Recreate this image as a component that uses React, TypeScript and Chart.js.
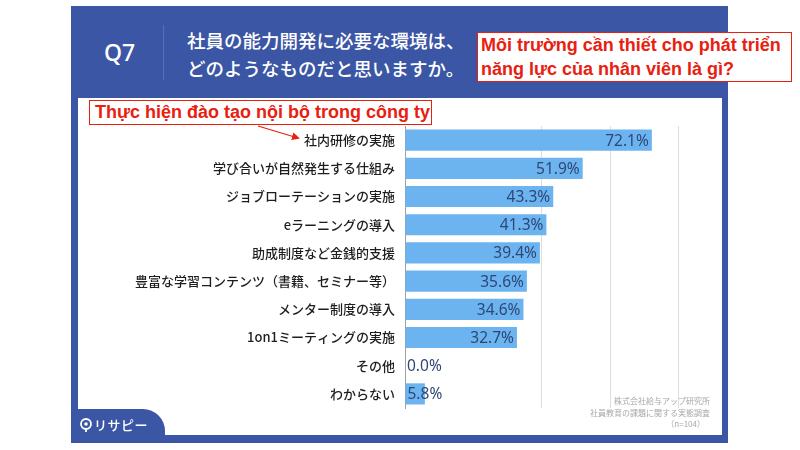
import React, { useEffect, useRef } from "react";
import { Chart, registerables } from "chart.js";

Chart.register(...registerables);

const categories = [
  "社内研修の実施",
  "学び合いが自然発生する仕組み",
  "ジョブローテーションの実施",
  "eラーニングの導入",
  "助成制度など金銭的支援",
  "豊富な学習コンテンツ（書籍、セミナー等）",
  "メンター制度の導入",
  "1on1ミーティングの実施",
  "その他",
  "わからない",
];
const values = [72.1, 51.9, 43.3, 41.3, 39.4, 35.6, 34.6, 32.7, 0.0, 5.8];
const gridValues = [40, 60, 80];
const questionNo = "Q7";
const questionLines = ["社員の能力開発に必要な環境は、", "どのようなものだと思いますか。"];
const noteTop = ["Môi trường cần thiết cho phát triển", "năng lực của nhân viên là gì?"];
const noteFirst = "Thực hiện đào tạo nội bộ trong công ty";
const sourceLines = ["株式会社給与アップ研究所", "社員教育の課題に関する実態調査", "（n=104）"];
const brand = "リサピー";

const BLUE = "#3b56a4";
const RED = "#e8200f";

const valueLabels = {
  id: "valueLabels",
  afterDatasetsDraw(chart: any) {
    const ctx = chart.ctx;
    const meta = chart.getDatasetMeta(0);
    ctx.save();
    ctx.font = '15.5px "Noto Sans", sans-serif';
    ctx.fillStyle = "#2e4776";
    ctx.textBaseline = "middle";
    meta.data.forEach((bar: any, i: number) => {
      const text = values[i].toFixed(1) + "%";
      const w = ctx.measureText(text).width;
      const len = bar.x - bar.base;
      if (len > w + 6) {
        ctx.textAlign = "right";
        ctx.fillText(text, bar.x - 3, bar.y + 1);
      } else {
        ctx.textAlign = "left";
        ctx.fillText(text, bar.base + 2, bar.y + 1);
      }
    });
    // source note (drawn on canvas so the small size is exact)
    ctx.font = '8px "Noto Sans CJK JP", sans-serif';
    ctx.fillStyle = "#a8a8a8";
    ctx.textAlign = "right";
    ctx.textBaseline = "middle";
    const right = chart.chartArea.right - 10;
    sourceLines.forEach((l, i) => {
      ctx.fillText(l, i === 2 ? right - 5 : right, chart.chartArea.bottom - 7 + i * 11.5);
    });
    ctx.restore();
  },
};

function BarChart() {
  const ref = useRef<HTMLCanvasElement>(null);
  useEffect(() => {
    if (!ref.current) return;
    const chart = new Chart(ref.current, {
      type: "bar",
      data: {
        labels: categories,
        datasets: [
          {
            data: values,
            backgroundColor: "#6cb4f0",
            borderWidth: 0,
            barPercentage: 0.75,
            categoryPercentage: 1,
          },
        ],
      },
      options: {
        animation: false,
        responsive: false,
        devicePixelRatio: 1,
        indexAxis: "y",
        layout: { padding: { top: 28, bottom: 27, left: 0, right: 2 } },
        plugins: { legend: { display: false }, tooltip: { enabled: false } },
        scales: {
          x: {
            min: 0,
            max: 92,
            ticks: { display: false, stepSize: 20 },
            grid: {
              drawTicks: false,
              color: (c: any) => (c.tick && gridValues.includes(c.tick.value) ? "#dddddd" : "rgba(0,0,0,0)"),
            },
            border: { display: false },
            afterFit: (s: any) => {
              s.height = 0;
            },
          },
          y: {
            ticks: {
              font: { family: '"Noto Sans CJK JP", sans-serif', size: 13, weight: 500 },
              color: "#1e1e1e",
              padding: 10,
            },
            grid: { display: false, drawTicks: false },
            border: { display: true, color: "#a0a0a0", width: 1 },
            afterFit: (s: any) => {
              s.width = 327;
            },
          },
        },
      } as any,
      plugins: [valueLabels],
    });
    return () => chart.destroy();
  }, []);
  return <canvas ref={ref} width={644} height={337} style={{ display: "block" }} />;
}

export default function App() {
  const abs = (l: number, t: number, w?: number, h?: number): React.CSSProperties => ({
    position: "absolute",
    left: l,
    top: t,
    width: w,
    height: h,
  });
  return (
    <div
      style={{
        position: "fixed",
        left: 0,
        top: 0,
        width: 800,
        height: 450,
        background: "#ffffff",
        overflow: "hidden",
        fontFamily: '"Noto Sans CJK JP", "Noto Sans", sans-serif',
      }}
    >
      <div style={{ ...abs(71, 6, 657, 437), background: BLUE }} />
      <div style={{ ...abs(78, 98, 644, 337), background: "#ffffff" }} />
      <div
        style={{
          ...abs(104, 37, 40, 30),
          color: "#fff",
          fontFamily: '"Noto Sans", sans-serif',
          fontSize: 23,
          fontWeight: 500,
          lineHeight: "30px",
        }}
      >
        {questionNo}
      </div>
      <div style={{ ...abs(163, 25, 1, 55), background: "rgba(255,255,255,0.15)" }} />
      <div
        style={{
          ...abs(187, 26, 300, 56),
          color: "#fff",
          fontSize: 18.5,
          fontWeight: 500,
          lineHeight: "28px",
          whiteSpace: "nowrap",
        }}
      >
        {questionLines.map((l, i) => (
          <div key={i}>{l}</div>
        ))}
      </div>
      <div style={abs(78, 98, 644, 337)}>
        <BarChart />
      </div>
      <div style={{ ...abs(71, 409, 94, 34), background: BLUE, borderTopRightRadius: 22 }} />
      <svg style={abs(0, 0, 800, 450)} width={800} height={450}>
        <circle cx={86} cy={424} r={5} fill="none" stroke="#fff" strokeWidth={1.8} />
        <circle cx={86} cy={424} r={1.8} fill="#fff" />
        <line x1={86} y1={429} x2={86} y2={432} stroke="#fff" strokeWidth={1.8} />
        <defs>
          <marker id="ah" markerWidth="8" markerHeight="8" refX="6" refY="4" orient="auto" markerUnits="userSpaceOnUse">
            <path d="M0,0 L8,4 L0,8 z" fill={RED} />
          </marker>
        </defs>
        <line x1={258} y1={126} x2={298} y2={138} stroke={RED} strokeWidth={1.2} markerEnd="url(#ah)" />
      </svg>
      <div
        style={{
          ...abs(94, 416, 70, 18),
          color: "#fff",
          fontSize: 13,
          fontWeight: 500,
          lineHeight: "18px",
          letterSpacing: 0.5,
        }}
      >
        {brand}
      </div>
      <div
        style={{
          ...abs(89, 100, 343, 25),
          boxSizing: "border-box",
          border: `1.5px solid ${RED}`,
          background: "#fff",
          color: RED,
          fontFamily: '"Liberation Sans", Arial, sans-serif',
          fontWeight: 700,
          fontSize: 18,
          lineHeight: "22px",
          paddingLeft: 5,
          whiteSpace: "nowrap",
        }}
      >
        {noteFirst}
      </div>
      <div
        style={{
          ...abs(477, 32, 315, 50),
          boxSizing: "border-box",
          border: `1.5px solid ${RED}`,
          background: "#fff",
          color: RED,
          fontFamily: '"Liberation Sans", Arial, sans-serif',
          fontWeight: 700,
          fontSize: 18,
          lineHeight: "24px",
          paddingLeft: 3,
          whiteSpace: "nowrap",
        }}
      >
        {noteTop.map((l, i) => (
          <div key={i}>{l}</div>
        ))}
      </div>
    </div>
  );
}
